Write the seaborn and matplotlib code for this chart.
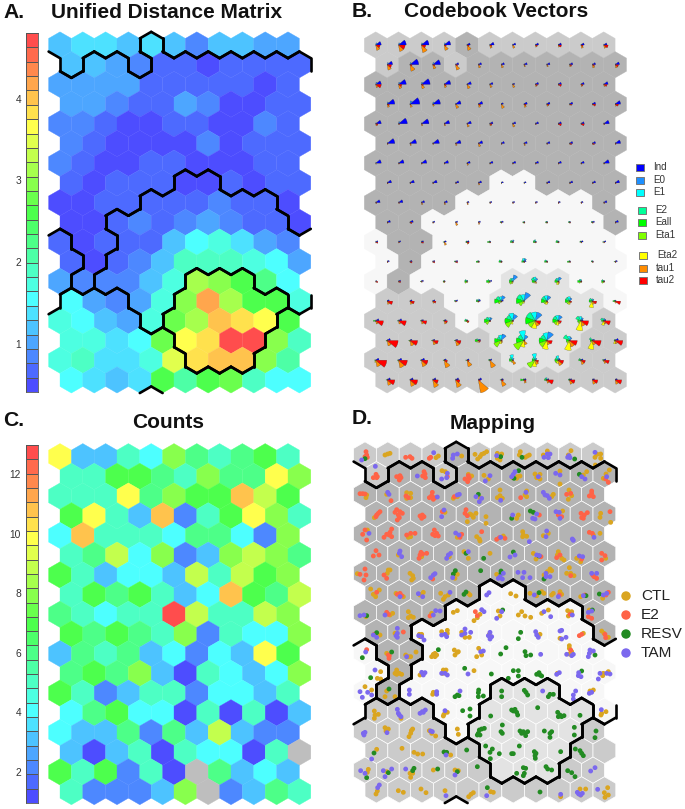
import colorsys
import numpy as np
import pandas as pd
import seaborn as sns
import matplotlib
matplotlib.use("Agg")
import matplotlib.pyplot as plt
from matplotlib.collections import LineCollection, PatchCollection
from matplotlib.colors import ListedColormap
from matplotlib.patches import Wedge, Rectangle

# som grid: 18 rows x 11 columns, toroidal
umat_levels = [
    [4, 5, 5, 4, 5, 4, 2, 4, 4, 3, 3],
    [4, 4, 3, 2, 1, 1, 0, 1, 1, 1, 1],
    [3, 3, 3, 3, 1, 1, 1, 1, 1, 0, 1],
    [3, 3, 2, 1, 1, 3, 2, 0, 0, 1, 1],
    [2, 2, 1, 0, 0, 1, 1, 0, 0, 2, 1],
    [2, 1, 0, 0, 0, 0, 2, 0, 1, 1, 1],
    [2, 1, 0, 0, 1, 1, 0, 0, 0, 1, 1],
    [1, 0, 1, 1, 1, 0, 0, 1, 0, 1, 1],
    [0, 0, 1, 1, 1, 1, 1, 2, 1, 1, 0],
    [0, 0, 1, 2, 1, 2, 3, 2, 1, 1, 0],
    [1, 0, 1, 1, 1, 4, 6, 7, 5, 3, 2],
    [1, 0, 1, 2, 4, 8, 8, 8, 7, 6, 3],
    [3, 2, 2, 2, 4, 7, 15, 14, 12, 10, 6],
    [6, 3, 2, 3, 7, 14, 21, 15, 12, 12, 7],
    [7, 6, 4, 3, 7, 13, 15, 20, 19, 18, 12],
    [7, 7, 5, 6, 13, 18, 19, 24, 24, 14, 8],
    [7, 8, 5, 5, 7, 17, 19, 20, 20, 14, 9],
    [6, 5, 4, 5, 12, 9, 12, 13, 8, 6, 6],
]
# 0 means an empty unit (drawn grey)
counts = [
    [10, 3, 3, 5, 4, 8, 6, 5, 6, 7, 5],
    [5, 5, 7, 7, 6, 5, 8, 6, 6, 10, 8],
    [5, 5, 5, 10, 6, 8, 7, 7, 11, 9, 7],
    [7, 10, 5, 3, 11, 2, 5, 7, 10, 8, 5],
    [4, 11, 5, 5, 5, 4, 6, 6, 4, 2, 8],
    [5, 6, 9, 4, 8, 2, 3, 8, 9, 8, 6],
    [7, 5, 3, 4, 4, 3, 9, 5, 9, 7, 8],
    [5, 7, 6, 7, 5, 3, 4, 11, 7, 6, 9],
    [6, 5, 4, 5, 5, 13, 9, 5, 5, 9, 8],
    [7, 6, 7, 6, 5, 8, 2, 5, 4, 4, 8],
    [3, 6, 5, 6, 3, 4, 2, 4, 3, 10, 7],
    [6, 7, 6, 8, 3, 1, 5, 4, 3, 4, 8],
    [7, 5, 2, 3, 5, 5, 2, 4, 4, 3, 5],
    [4, 6, 7, 4, 4, 1, 5, 1, 5, 1, 3],
    [4, 3, 3, 6, 2, 6, 3, 9, 3, 2, 2],
    [3, 1, 3, 5, 1, 5, 4, 4, 1, 5, 0],
    [7, 5, 7, 2, 5, 1, 0, 6, 3, 4, 3],
    [5, 2, 2, 2, 3, 8, 0, 2, 3, 6, 5],
]
clusters = [
    "00001000000",
    "01101111111",
    "11111111111",
    "11111111111",
    "11111111111",
    "11111111111",
    "11111111111",
    "11111221111",
    "11112222221",
    "11222222221",
    "21122222222",
    "21222222222",
    "21222233322",
    "00022333332",
    "00002333330",
    "00000333300",
    "00000033300",
    "00000000000",
]

# codebook segment radii per variable, one character per unit (base 16)
ind_r = ["57763433333", "58733333334", "57864323334", "79754233335", "58754333335", "76654333335",
         "55543333335", "44433223334", "44332222223", "33222211123", "22222111122", "22221121112",
         "12211211111", "22222211111", "33221111122", "32222111123", "33322211222", "33333222222"]
e0_r = ["22221111111", "22211111111", "22211111111", "23211111111", "12111111111", "11111111111",
        "11111111111", "11111111111", "11111111111", "11111111111", "11111121111", "11111131111",
        "11111163411", "11112585321", "11111368532", "11111658311", "11111122211", "11111111111"]
e1_r = ["00000000000", "00000000000", "00000000000", "00000000000", "00000000000", "00000000000",
        "00000000000", "00000000000", "00000000000", "00000001110", "00001112110", "00001131110",
        "00001134321", "00001465421", "00001378542", "00001597411", "00000156410", "00000012100"]
e2_r = ["00000000000", "00000000000", "00000000000", "00000000000", "00000000000", "00000000000",
        "00000000000", "00000000000", "00000000000", "00000111110", "00001122210", "00011222110",
        "00012234322", "00012575431", "00002469553", "00002466631", "00000133321", "00000012100"]
eall_r = ["00000000000", "00000000000", "00000000000", "00000000000", "00000000000", "00000000000",
          "00000000000", "00000000000", "00000000000", "00000111110", "00011222211", "00012222211",
          "00112333332", "00012675432", "21112579532", "11113677321", "11111133321", "10000132100"]
eta1_r = ["00000000000", "00000000000", "00000000000", "00000000000", "00000000000", "00000000000",
          "00000000000", "00000000000", "00000000000", "00000011000", "00001111100", "00001111100",
          "00012232222", "00001353321", "00001477431", "000027a7321", "00000028310", "00000011000"]
eta2_r = ["00000000000", "00000000000", "00000000000", "00000000000", "00000000000", "00000000000",
          "00000000000", "00000000000", "00000000000", "00000000000", "00000000000", "00000000000",
          "00011121311", "00001123361", "10001137494", "11000368983", "21000026311", "00000001100"]
tau1_r = ["56755332233", "56453322233", "34434332122", "33243432112", "21223231111", "12123121111",
          "11112111111", "11112111111", "11222111111", "11132111111", "11132111111", "11111111111",
          "11111112211", "33211112232", "33332115353", "55452244643", "67676744543", "5677c633444"]
tau2_r = ["46422212324", "42221111223", "53221112323", "21112122233", "21111211331", "11111111221",
          "01111111111", "11111001111", "11111111111", "12111111111", "21212111111", "12221111111",
          "22110000111", "54311101245", "77532115376", "a7552115787", "a8632113545", "77542226556"]
codebook_names = ["Ind", "E0", "E1", "E2", "Eall", "Eta1", "Eta2", "tau1", "tau2"]
codebook_tables = [ind_r, e0_r, e1_r, e2_r, eall_r, eta1_r, eta2_r, tau1_r, tau2_r]
codebook_colors = ["#0000ff", "#1e90ff", "#00ffff", "#00ff99", "#00ff00", "#80ff00", "#ffff00", "#ff8c00", "#ff0000"]

# mapped samples, map units (3 units = 1 pixel)
ctl_pts = [(135, 150), (143, 147), (150, 145), (295, 153), (288, 158), (365, 153), (440, 140), (432, 145), (425, 148),
           (420, 155), (413, 162), (405, 148), (472, 145), (485, 147), (472, 160), (480, 165), (541, 140), (556, 157),
           (568, 150), (562, 153), (538, 150), (622, 138), (610, 150), (693, 137), (685, 150), (772, 148), (782, 147),
           (765, 157), (782, 160), (766, 180), (306, 197), (316, 200), (395, 213), (385, 208), (432, 211), (445, 222),
           (518, 218), (532, 215), (540, 213), (530, 220), (585, 207), (600, 208), (590, 218), (600, 222), (660, 198),
           (660, 237), (740, 200), (730, 210), (808, 195), (798, 207), (790, 220), (80, 270), (78, 278), (140, 268),
           (200, 263), (212, 265), (200, 280), (212, 278), (340, 280), (352, 275), (420, 278), (480, 255), (472, 278),
           (480, 272), (487, 280), (560, 258), (555, 270), (560, 275), (640, 268), (635, 275), (687, 255), (695, 272),
           (685, 283), (103, 338), (315, 322), (390, 327), (400, 337), (408, 325), (382, 350), (395, 330), (438, 335),
           (438, 355), (535, 330), (530, 340), (668, 318), (782, 325), (780, 337), (812, 352), (82, 375), (212, 395),
           (205, 397), (352, 397), (410, 395), (418, 402), (420, 408), (490, 393), (548, 380), (550, 390), (560, 394),
           (548, 395), (610, 392), (625, 385), (780, 385), (760, 390), (175, 450), (245, 455), (328, 455), (372, 440),
           (385, 460), (450, 445), (588, 462), (580, 445), (655, 440), (652, 450), (665, 460), (672, 465), (710, 460),
           (722, 470), (797, 460), (52, 506), (150, 495), (142, 505), (145, 495), (210, 505), (218, 512), (215, 525),
           (220, 520), (352, 508), (345, 520), (470, 508), (630, 492), (622, 500), (635, 497), (612, 510), (688, 488),
           (702, 512), (692, 505), (680, 505), (92, 552), (118, 555), (107, 575), (100, 568), (168, 565), (190, 575),
           (250, 562), (240, 570), (245, 568), (302, 565), (310, 583), (325, 570), (315, 575), (390, 570), (385, 565),
           (512, 566), (528, 573), (570, 565), (590, 572), (605, 560), (612, 565), (640, 565), (635, 570), (665, 568),
           (660, 560), (722, 575), (788, 580), (78, 635), (150, 630), (158, 625), (205, 620), (212, 633), (220, 637),
           (205, 638), (275, 625), (352, 617), (340, 622), (402, 647), (412, 638), (420, 628), (475, 618), (480, 633),
           (545, 620), (535, 630), (555, 633), (572, 637), (625, 615), (605, 625), (683, 617), (695, 620), (685, 633),
           (748, 615), (120, 690), (108, 690), (165, 685), (238, 688), (240, 695), (245, 688), (322, 676), (322, 685),
           (305, 680), (365, 682), (375, 697), (388, 697), (448, 688), (600, 688), (660, 700), (730, 685), (785, 678),
           (805, 697), (792, 685), (140, 745), (205, 755), (212, 755), (197, 750), (228, 741), (275, 755), (285, 745),
           (285, 755), (280, 748), (290, 750), (343, 735), (355, 740), (345, 750), (352, 742), (416, 730), (425, 750),
           (410, 755), (688, 722), (688, 730), (695, 740), (688, 747), (752, 740), (112, 820), (122, 822), (122, 800),
           (170, 795), (185, 808), (170, 808), (178, 805), (165, 805), (240, 810), (310, 795), (318, 795), (308, 805),
           (402, 797), (652, 805), (790, 805), (788, 812), (805, 800), (75, 845), (95, 855), (140, 858), (135, 875),
           (165, 875), (280, 862), (278, 868), (750, 858), (760, 855), (103, 918), (105, 930), (115, 928), (103, 940),
           (183, 940), (322, 922), (312, 928), (310, 933), (785, 925), (798, 920), (783, 930), (135, 968), (138, 978),
           (145, 972), (218, 972), (214, 977), (212, 985), (207, 995), (268, 977), (275, 985), (287, 993), (352, 972),
           (355, 988), (110, 1033), (186, 1030), (222, 1042), (233, 1047), (248, 1047), (332, 1050), (85, 1093),
           (82, 1102), (140, 1100), (210, 1105), (212, 1117), (218, 1105), (280, 1095), (345, 1095), (355, 1097),
           (108, 1167), (112, 1158), (175, 1157), (190, 1162), (243, 1152), (258, 1163), (315, 1157), (400, 1163),
           (393, 1168), (386, 1175), (452, 1160), (460, 1162), (662, 1175), (720, 1152), (737, 1152), (722, 1170),
           (803, 1148), (793, 1163), (795, 1177), (805, 1170)]
e2_pts = [(78, 140), (80, 150), (75, 155), (82, 157), (197, 157), (210, 155), (216, 160), (268, 160), (272, 157),
          (108, 208), (100, 218), (110, 218), (112, 215), (180, 212), (170, 215), (183, 218), (178, 225), (252, 200),
          (255, 207), (248, 213), (256, 218), (322, 215), (385, 212), (375, 222), (388, 220), (383, 230), (805, 232),
          (797, 222), (60, 266), (68, 266), (75, 267), (153, 287), (198, 273), (205, 278), (277, 262), (275, 272),
          (285, 278), (268, 278), (280, 283), (343, 275), (542, 278), (680, 268), (692, 265), (755, 258), (748, 273),
          (760, 275), (755, 265), (120, 320), (115, 325), (110, 330), (108, 335), (170, 314), (180, 320), (187, 325),
          (175, 330), (172, 345), (178, 338), (165, 322), (240, 333), (247, 330), (252, 335), (245, 340), (307, 320),
          (378, 314), (375, 325), (382, 332), (598, 330), (655, 330), (665, 335), (723, 325), (733, 330), (742, 323),
          (725, 338), (730, 340), (810, 320), (75, 375), (68, 388), (80, 405), (155, 372), (150, 382), (140, 388),
          (132, 397), (155, 395), (148, 390), (200, 390), (225, 385), (212, 385), (283, 375), (278, 388), (290, 385),
          (295, 393), (285, 392), (360, 397), (365, 388), (425, 380), (470, 403), (478, 398), (495, 400), (748, 382),
          (757, 385), (108, 437), (100, 453), (117, 450), (243, 442), (260, 445), (240, 450), (248, 447), (237, 460),
          (603, 455), (660, 450), (650, 458), (725, 462), (785, 445), (795, 452), (785, 465), (75, 492), (60, 508),
          (78, 510), (72, 525), (140, 520), (132, 510), (278, 522), (692, 512), (758, 510), (770, 520), (762, 515),
          (110, 562), (180, 565), (185, 572), (172, 568), (658, 570), (735, 570), (798, 570), (805, 562), (140, 622),
          (145, 628), (270, 633), (406, 620), (412, 632), (690, 628), (745, 635), (755, 640), (103, 688), (190, 681),
          (718, 692), (725, 688), (795, 688), (797, 698), (80, 734), (148, 752), (147, 760), (145, 750), (692, 735)]
resv_pts = [(75, 161), (482, 155), (546, 157), (704, 162), (536, 197), (522, 220), (718, 208), (415, 268), (515, 340),
            (571, 318), (580, 322), (378, 445), (431, 460), (520, 441), (597, 453), (346, 497), (340, 507), (422, 497),
            (483, 498), (483, 505), (612, 522), (378, 561), (372, 568), (597, 563), (738, 572), (778, 567), (80, 632),
            (488, 615), (757, 615), (110, 683), (542, 682), (535, 701), (67, 758), (155, 741), (295, 734), (498, 728),
            (482, 747), (555, 740), (558, 752), (572, 750), (765, 750), (92, 818), (374, 790), (454, 807), (520, 797),
            (535, 797), (535, 813), (505, 820), (597, 803), (600, 810), (605, 813), (590, 808), (725, 798), (147, 852),
            (352, 870), (345, 875), (357, 872), (416, 855), (415, 863), (415, 875), (430, 873), (485, 858), (485, 875),
            (553, 856), (558, 862), (563, 870), (630, 868), (625, 875), (640, 868), (368, 917), (390, 912), (390, 933),
            (452, 933), (515, 915), (525, 913), (530, 922), (533, 930), (520, 918), (593, 908), (653, 922), (660, 930),
            (655, 935), (672, 932), (665, 935), (720, 931), (433, 970), (425, 972), (418, 975), (415, 985), (420, 990),
            (412, 990), (487, 960), (483, 980), (487, 985), (540, 978), (550, 980), (555, 985), (563, 980), (557, 992),
            (545, 985), (613, 978), (635, 980), (630, 997), (630, 985), (703, 967), (703, 990), (768, 978), (765, 998),
            (102, 1044), (312, 1041), (320, 1042), (380, 1035), (437, 1023), (457, 1032), (450, 1042), (451, 1061),
            (515, 1046), (520, 1046), (538, 1023), (478, 1046), (583, 1040), (588, 1045), (585, 1052), (586, 1060),
            (662, 1040), (706, 1032), (720, 1037), (725, 1045), (730, 1052), (80, 1118), (145, 1103), (222, 1090),
            (218, 1097), (293, 1092), (352, 1100), (412, 1085), (530, 1105), (550, 1088), (557, 1090), (553, 1105),
            (550, 1112), (618, 1085), (623, 1092), (635, 1095), (683, 1097), (695, 1103), (705, 1115), (442, 1148),
            (600, 1161)]
tam_pts = [(65, 165), (281, 143), (352, 147), (340, 150), (338, 160), (470, 152), (622, 147), (630, 147), (625, 158),
           (612, 157), (687, 152), (683, 157), (690, 158), (765, 142), (106, 184), (232, 213), (322, 205), (320, 218),
           (305, 222), (450, 212), (436, 228), (525, 200), (515, 215), (520, 208), (595, 215), (647, 205), (660, 210),
           (725, 215), (735, 222), (800, 215), (143, 262), (147, 268), (292, 276), (358, 268), (352, 270), (408, 275),
           (425, 280), (418, 290), (482, 286), (558, 262), (610, 262), (615, 270), (622, 272), (628, 280), (312, 315),
           (305, 335), (518, 330), (590, 327), (585, 342), (578, 340), (648, 320), (658, 322), (660, 340), (87, 385),
           (347, 384), (357, 390), (482, 397), (568, 410), (620, 378), (618, 395), (697, 402), (700, 406), (762, 397),
           (180, 438), (178, 445), (185, 455), (332, 445), (325, 450), (320, 460), (385, 440), (510, 456), (525, 450),
           (590, 450), (598, 452), (718, 453), (728, 455), (285, 506), (280, 510), (272, 518), (338, 518), (480, 515),
           (487, 522), (475, 520), (490, 505), (534, 502), (552, 502), (548, 518), (570, 518), (618, 505), (618, 515),
           (630, 515), (755, 505), (770, 505), (180, 575), (235, 566), (248, 575), (330, 562), (447, 563), (440, 570),
           (583, 570), (655, 575), (730, 572), (790, 570), (800, 565), (60, 632), (72, 630), (135, 630), (287, 617),
           (300, 618), (280, 630), (432, 620), (425, 614), (485, 620), (470, 640), (612, 620), (632, 635), (697, 630),
           (745, 622), (755, 618), (100, 690), (110, 697), (172, 670), (172, 685), (168, 692), (172, 697), (252, 705),
           (245, 695), (236, 692), (315, 688), (305, 690), (320, 695), (375, 672), (392, 682), (365, 690), (375, 685),
           (450, 682), (445, 692), (450, 702), (455, 695), (587, 680), (590, 690), (595, 697), (665, 676), (660, 678),
           (678, 697), (665, 702), (77, 741), (200, 755), (422, 740), (430, 738), (602, 748), (680, 748), (700, 748),
           (695, 752), (750, 735), (760, 738), (745, 755), (748, 745), (105, 795), (245, 802), (255, 803), (250, 810),
           (305, 805), (315, 805), (322, 810), (384, 807), (658, 803), (650, 808), (716, 803), (715, 812), (723, 815),
           (780, 805), (800, 805), (810, 807), (775, 822), (60, 860), (83, 862), (67, 877), (95, 870), (208, 855),
           (208, 868), (290, 860), (290, 868), (360, 858), (608, 858), (707, 858), (700, 870), (700, 882), (755, 862),
           (748, 865), (172, 913), (175, 925), (183, 935), (178, 930), (240, 925), (247, 920), (256, 915), (250, 922),
           (315, 917), (784, 914), (70, 985), (75, 982), (72, 990), (141, 983), (277, 980), (272, 978), (95, 1062),
           (318, 1050), (62, 1097), (75, 1105), (130, 1097), (135, 1115), (155, 1092), (197, 1092), (345, 1110),
           (765, 1088), (752, 1098), (118, 1140), (113, 1148), (318, 1172), (440, 1172), (662, 1168), (712, 1162),
           (716, 1167), (722, 1170), (727, 1165), (773, 1153)]
group_names = ["CTL", "E2", "RESV", "TAM"]
group_colors = ["#daa520", "#ff6347", "#228b22", "#7b68ee"]

cluster_greys = {"0": "#cbcbcb", "1": "#b3b3b3", "2": "#f7f7f7", "3": "#e3e3e3"}
W, H = 685, 809
COL, ROW, RAD = 68.4, 59.1, 39.45  # map units, 3 units = 1 px
HEX_S = (2 * RAD / 3 * 0.72) ** 2

sns.set_theme(style="white")
plt.rcParams["font.family"] = ["Liberation Sans", "DejaVu Sans"]

levels_palette = [colorsys.hsv_to_rgb(4 / 6 * (1 - i / 24), 0.7, 1.0) for i in range(25)]

n_rows, n_cols = len(clusters), len(clusters[0])


def unit_x(r, c):
    return COL * (c + 0.5 * (r % 2))


grid = pd.DataFrame([(r, c) for r in range(n_rows) for c in range(n_cols)], columns=["row", "col"])
grid["x"] = COL * (grid["col"] + 0.5 * (grid["row"] % 2))
grid["y"] = ROW * grid["row"]
grid["cluster"] = [clusters[r][c] for r, c in zip(grid["row"], grid["col"])]
grid["umat"] = [umat_levels[r][c] for r, c in zip(grid["row"], grid["col"])]
grid["count"] = [counts[r][c] for r, c in zip(grid["row"], grid["col"])]

fig = plt.figure(figsize=(W / 100, H / 100), dpi=100)


def panel(px0, py0):
    # axes sized in pixels, with map origin at unit (0, 0)
    left, right, top, bottom = px0 - 25, px0 + 262, py0 - 30, py0 + 352
    ax = fig.add_axes([left / W, 1 - bottom / H, (right - left) / W, (bottom - top) / H])
    return ax, ((left - px0) * 3, (right - px0) * 3), ((bottom - py0) * 3, (top - py0) * 3)


def finish(ax, xlim, ylim):
    ax.set_xlim(xlim)
    ax.set_ylim(ylim)
    ax.axis("off")
    ax.patch.set_alpha(0)


def boundaries(ax):
    # edges between units of different cluster, wrapping round the torus
    ang = np.radians(np.arange(6) * 60)
    vx, vy = RAD * np.sin(ang), -RAD * np.cos(ang)
    segs = []
    for r in range(n_rows):
        left, right = (-1, 0) if r % 2 == 0 else (0, 1)
        sides = [(-1, right), (0, 1), (1, right), (1, left), (0, -1), (-1, left)]
        for c in range(n_cols):
            x, y = unit_x(r, c), ROW * r
            for k, (dr, dc) in enumerate(sides):
                other = clusters[(r + dr) % n_rows][(c + dc) % n_cols]
                if other != clusters[r][c]:
                    k2 = (k + 1) % 6
                    segs.append([(x + vx[k], y + vy[k]), (x + vx[k2], y + vy[k2])])
    ax.add_collection(LineCollection(segs, colors="black", linewidths=1.9, capstyle="round", zorder=5))


def colorbar(top, bottom, vmin, vmax, ticks):
    cax = fig.add_axes([26 / W, 1 - bottom / H, 12 / W, (bottom - top) / H])
    bar = np.arange(25)[::-1].reshape(-1, 1)
    sns.heatmap(bar, cmap=ListedColormap(levels_palette), cbar=False, linewidths=0.5, linecolor="#555555",
                xticklabels=False, ax=cax)
    cax.set_yticks([25 * (1 - (t - vmin) / (vmax - vmin)) for t in ticks])
    cax.set_yticklabels([str(t) for t in ticks], rotation=0, fontsize=7.4, color="#333333")
    cax.tick_params(axis="y", length=0, pad=3.5)
    for s in cax.spines.values():
        s.set_visible(True)
        s.set_color("#555555")
        s.set_linewidth(0.6)


# A. distance matrix
ax, xlim, ylim = panel(60, 45)
sns.scatterplot(data=grid, x="x", y="y", hue="umat", palette=dict(enumerate(levels_palette)), marker="h", s=HEX_S,
                edgecolor="face", linewidth=0.25, legend=False, ax=ax)
boundaries(ax)
finish(ax, xlim, ylim)
colorbar(33, 392, 0.42, 4.82, [1, 2, 3, 4])

# B. codebook vectors
ax, xlim, ylim = panel(375.7, 45)
sns.scatterplot(data=grid, x="x", y="y", hue="cluster", palette=cluster_greys, marker="h", s=HEX_S,
                edgecolor="face", linewidth=0.25, legend=False, ax=ax)
wedges = []
for k, table in enumerate(codebook_tables):
    for r in range(n_rows):
        for c in range(n_cols):
            rad = int(table[r][c], 16)
            if rad:
                # y axis is flipped, so angles run the other way
                wedges.append(Wedge((unit_x(r, c), ROW * r), rad * 3.3, -(k + 1) * 40, -k * 40,
                                    facecolor=codebook_colors[k], edgecolor="#222222", linewidth=0.15))
ax.add_collection(PatchCollection(wedges, match_original=True, zorder=4))
finish(ax, xlim, ylim)

# C. counts
ax, xlim, ylim = panel(60, 456.7)
count_palette = {n: levels_palette[(n - 1) * 2] for n in range(1, 14)}
count_palette[0] = "#bebebe"
sns.scatterplot(data=grid, x="x", y="y", hue="count", palette=count_palette, marker="h", s=HEX_S,
                edgecolor="face", linewidth=0.25, legend=False, ax=ax)
finish(ax, xlim, ylim)
colorbar(445, 803, 1, 13, [2, 4, 6, 8, 10, 12])

# D. mapping
ax, xlim, ylim = panel(365, 455)
sns.scatterplot(data=grid, x="x", y="y", hue="cluster", palette=cluster_greys, marker="h", s=HEX_S,
                edgecolor="white", linewidth=0.5, legend=False, ax=ax)
samples = pd.DataFrame(
    [(px - 75, py - 150, name) for name, pts in zip(group_names, [ctl_pts, e2_pts, resv_pts, tam_pts]) for px, py in pts],
    columns=["x", "y", "group"])
sns.scatterplot(data=samples, x="x", y="y", hue="group", palette=dict(zip(group_names, group_colors)), s=12,
                linewidth=0, legend=False, zorder=3, ax=ax)
boundaries(ax)
finish(ax, xlim, ylim)

# titles and legends in figure pixels
over = fig.add_axes([0, 0, 1, 1], zorder=10)
over.set_xlim(0, W)
over.set_ylim(H, 0)
over.axis("off")
over.patch.set_alpha(0)
for label, x, y in [("A.", 3, 12), ("B.", 352, 11), ("C.", 3, 420), ("D.", 352, 418)]:
    over.text(x, y, label, fontsize=15.2, fontweight="bold", color="#111111", va="center", ha="left")
for label, x, y in [("Unified Distance Matrix", 167, 12), ("Codebook Vectors", 496, 11), ("Counts", 168, 422),
                    ("Mapping", 493, 423)]:
    over.text(x, y, label, fontsize=15, fontweight="bold", color="#111111", va="center", ha="center")

key_y = [167, 180, 192, 210, 222, 235, 255, 268, 280]
key_x = [640.5, 640.5, 640.5, 642, 642, 642, 643, 643, 643]
text_x = [653.5, 653.5, 653.5, 655, 655, 655, 657, 656, 656]
for name, col, kx, tx, ky in zip(codebook_names, codebook_colors, key_x, text_x, key_y):
    over.add_patch(Rectangle((kx - 4, ky - 3.5), 8, 7, facecolor=col, edgecolor="#777777", linewidth=0.7))
    over.text(tx, ky, name, fontsize=7.1, color="#333333", va="center", ha="left")

legend_y = [596, 615, 634, 653]
over.scatter([626] * 4, legend_y, s=46, c=group_colors, linewidths=0)
for name, ly in zip(group_names, legend_y):
    over.text(641, ly, name, fontsize=11.1, color="#222222", va="center", ha="left")

fig.savefig("out.png", dpi=100)
